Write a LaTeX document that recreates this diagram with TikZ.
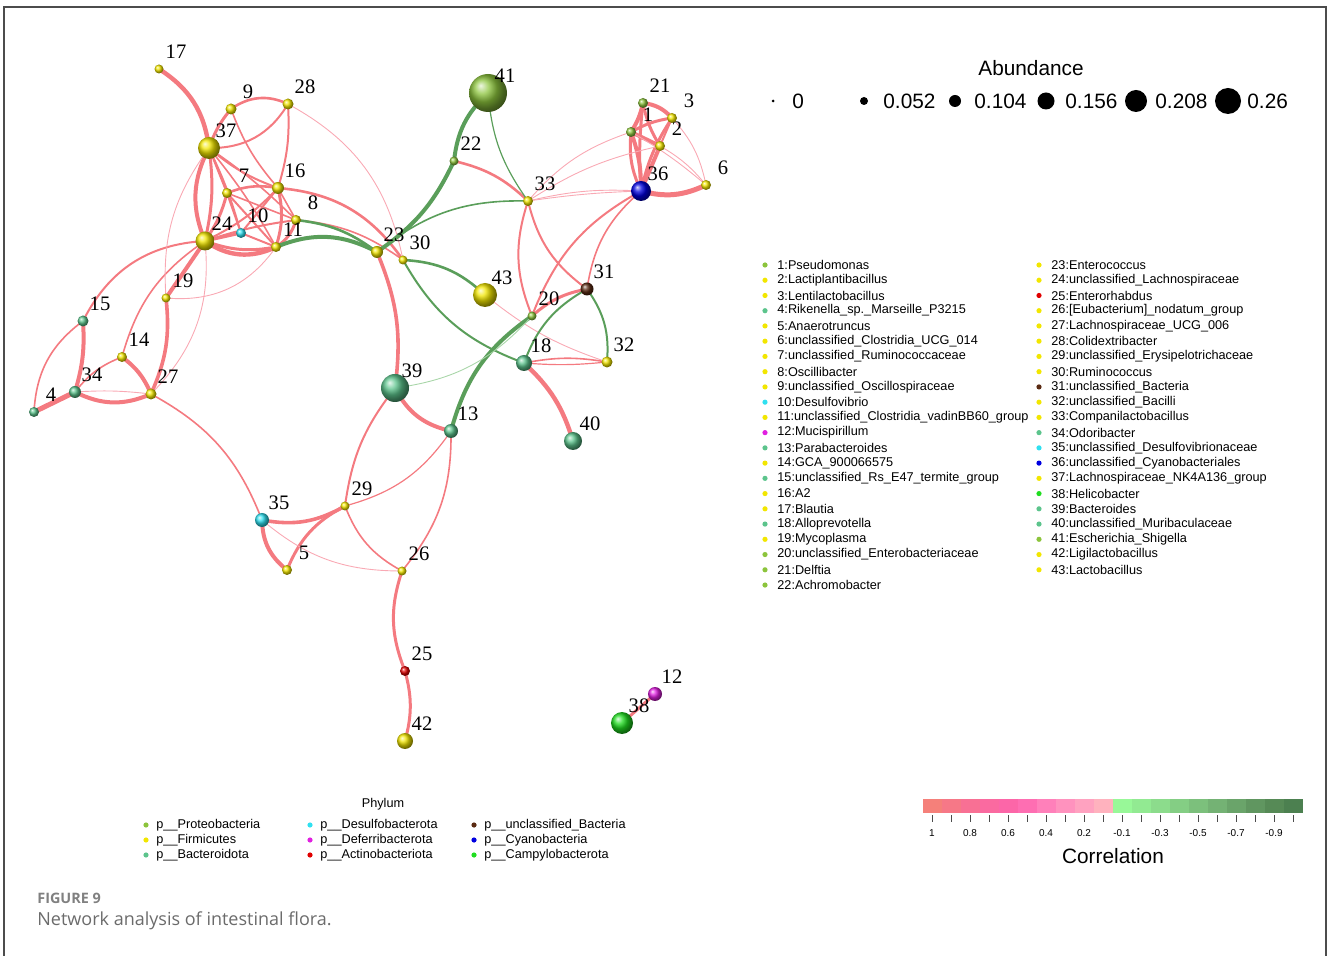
\documentclass[tikz,border=0pt]{standalone}
\usepackage{fontspec}
\setmainfont{Liberation Serif}
\newfontfamily\legfont{Liberation Sans}
\newfontfamily\capfont{Open Sans}
\usetikzlibrary{backgrounds}
% phylum colours
\definecolor{cprot}{HTML}{8CC43C}
\definecolor{cfirm}{HTML}{F2E600}
\definecolor{cbact}{HTML}{5CC48C}
\definecolor{cdesu}{HTML}{30E0F0}
\definecolor{cdefe}{HTML}{E020E0}
\definecolor{cacti}{HTML}{E00000}
\definecolor{cuncl}{HTML}{5A2A12}
\definecolor{ccyan}{HTML}{0000E0}
\definecolor{ccamp}{HTML}{20DD20}
% edge colours
\definecolor{cpos}{HTML}{F47A80}
\definecolor{cposl}{HTML}{F9A9B4}
\definecolor{cneg}{HTML}{5A9E5A}
\definecolor{cnegl}{HTML}{A9D6A9}
\tikzset{
  taxon/.style={circle, inner sep=0pt},
  num/.style={inner sep=0pt, font=\fontsize{10.3}{12}\selectfont},
  posedge/.style={draw=cpos, line cap=round},
  posfaint/.style={draw=cposl, line cap=round, line width=0.45pt},
  negedge/.style={draw=cneg, line cap=round},
  negfaint/.style={draw=cnegl, line cap=round, line width=0.45pt},
  legdot/.style={circle, inner sep=0pt, minimum size=2.6pt},
  legtext/.style={anchor=west, inner sep=0pt, font=\legfont\fontsize{6.35}{7.5}\selectfont},
  abdot/.style={circle, fill=black, inner sep=0pt},
  abtext/.style={anchor=west, inner sep=0pt, font=\legfont\fontsize{10.4}{12}\selectfont},
}
\begin{document}
\begin{tikzpicture}[x=0.5pt, y=-0.5pt]
        \useasboundingbox (0,0) rectangle (1328,956);
        \draw[gray!60!black, line width=0.6pt] (4,956) -- (4,7) -- (1326,7) -- (1326,956);
        % taxa: id/x/y/radius/phylum
        \foreach \id/\x/\y/\r/\c in {
          1/631/132/5/cprot, 2/660/146/5/cfirm, 3/672/118/5/cfirm, 4/34/412/5/cbact,
          5/287/570/5/cfirm, 6/706/185/5/cfirm, 7/227/193/5/cfirm, 8/296/220/5/cfirm,
          9/231/109/5.5/cfirm, 10/241/233/5/cdesu, 11/276/247/5/cfirm, 12/655/694/7/cdefe,
          13/451/431/7/cbact, 14/122/357/5/cfirm, 15/83/321/5.5/cbact, 16/278/188/6/cfirm,
          17/159/69/4.5/cfirm, 18/524/363/8/cbact, 19/166/298/4.5/cfirm, 20/532/316/4.5/cprot,
          21/643/103/5/cprot, 22/454/161/4.5/cprot, 23/377/252/6/cfirm, 24/205/241/9.5/cfirm,
          25/405/671/5/cacti, 26/402/571/4.5/cfirm, 27/151/394/5.5/cfirm, 28/288/104/5.5/cfirm,
          29/345/506/4.5/cfirm, 30/403/260/4.5/cfirm, 31/587/289/6.5/cuncl, 32/607/362/5.5/cfirm,
          33/528/201/5/cfirm, 34/75/392/6/cbact, 35/262/520/7/cdesu, 36/641/191/10/ccyan,
          37/209/148/11/cfirm, 38/622/723/11/ccamp, 39/395/388/14/cbact, 40/573/441/9/cbact,
          41/488/93/19/cprot, 42/405/741/8/cfirm, 43/485/295/12/cfirm}
        {
          \node[taxon, minimum size=\r pt, ball color=\c] (n\id) at (\x,\y) {};
          \node[num] (l\id) at (\x+17,\y-17) {\id};
        }
        \begin{scope}[on background layer]
        % positive correlations
        \foreach \a/\b/\w/\bb in {
          17/37/2.2/25, 37/9/1.5/10, 9/28/1.3/30, 37/28/1/-30, 9/16/0.8/-10, 28/16/1/10,
          37/7/1/0, 37/24/2/-25, 37/24/1.5/10, 37/10/0.8/5, 37/11/0.8/5, 37/8/0.8/5,
          37/16/1/-10, 7/16/1.3/15, 7/24/1.5/10, 7/10/1/0, 7/11/1/0, 7/8/0.8/0,
          16/24/1/10, 16/10/1/0, 16/11/1.5/15, 16/8/0.8/0, 16/30/1.3/25, 8/30/0.8/15,
          8/11/1.5/20, 24/10/1.5/0, 24/11/2.2/-30, 24/11/1.5/-15, 24/8/1/5, 10/11/1/0,
          24/15/1/-30, 24/14/0.8/-20, 24/19/2/0, 19/27/1.8/15, 15/34/2/10, 15/4/0.8/-25,
          14/34/0.8/-15, 14/27/2/15, 34/4/2.5/0, 34/27/2/-25, 27/35/0.8/20, 23/39/1.8/15,
          22/33/1.3/15, 33/20/1/-20, 33/31/1/-20, 36/20/1/-20, 36/31/0.8/-20, 20/31/1.5/15,
          18/32/0.8/10, 18/32/0.6/-5, 18/40/2.2/15, 39/13/2/-25, 39/29/1/-15, 13/29/0.6/20,
          13/26/0.8/20, 35/29/1.8/-20, 5/29/1.5/20, 35/5/2/-25, 29/26/0.8/-20, 26/25/1.5/-20,
          25/42/1.5/15, 38/12/1.5/0, 21/1/2/10, 21/3/2/20, 1/3/1.5/10, 1/2/2/0,
          21/2/1.5/-10, 1/36/2/10, 1/36/1.5/-15, 21/36/1.5/-5, 3/36/1.5/-10, 2/36/2/0,
          3/2/1/0, 36/6/2.5/-20}
        \draw[posedge, line width=\w pt] (n\a.center) to[bend left=\bb] (n\b.center);
        \foreach \a/\b/\bb in {
          28/30/25, 37/19/-20, 24/27/25, 19/11/-30, 34/27/5, 35/26/-20, 43/32/-10,
          33/1/15, 33/2/10, 33/36/8, 33/36/3, 2/6/10, 3/6/15, 1/6/5}
        \draw[posfaint] (n\a.center) to[bend left=\bb] (n\b.center);
        % negative correlations
        \foreach \a/\b/\w/\bb in {
          11/23/2/25, 8/23/1.3/15, 23/22/2/-15, 23/33/0.8/20, 30/18/1/-20, 30/43/1.3/20,
          22/41/2/20, 41/33/0.6/-15, 20/13/2/-20, 31/18/1/-20, 31/32/1/20}
        \draw[negedge, line width=\w pt] (n\a.center) to[bend left=\bb] (n\b.center);
        \draw[negfaint] (n39.center) to[bend left=-20] (n20.center);
        \end{scope}
        % abundance legend
        \node[abtext, anchor=center] (abtitle) at (1031,68) {Abundance};
        \foreach \x/\r/\t [count=\k] in {773/1.5/0, 864/4/0.052, 955/6/0.104,
          1046/8.5/0.156, 1136/11/0.208, 1228/13/0.26}
        {
          \node[abdot, minimum size=\r pt] (ab\k) at (\x,101) {};
          \node[abtext] (abt\k) at (\x+19,101) {\t};
        }
        % genus legend
        \foreach \c/\t [count=\i] in {cprot/Pseudomonas, cfirm/Lactiplantibacillus,
          cfirm/Lentilactobacillus, cbact/Rikenella\_sp.\_Marseille\_P3215, cfirm/Anaerotruncus,
          cfirm/unclassified\_Clostridia\_UCG\_014, cfirm/unclassified\_Ruminococcaceae,
          cfirm/Oscillibacter, cfirm/unclassified\_Oscillospiraceae, cdesu/Desulfovibrio,
          cfirm/unclassified\_Clostridia\_vadinBB60\_group, cdefe/Mucispirillum,
          cbact/Parabacteroides, cfirm/GCA\_900066575, cbact/unclassified\_Rs\_E47\_termite\_group,
          cfirm/A2, cfirm/Blautia, cbact/Alloprevotella, cfirm/Mycoplasma,
          cprot/unclassified\_Enterobacteriaceae, cprot/Delftia, cprot/Achromobacter}
        {
          \node[legdot, fill=\c] (gd\i) at (765,{265+(\i-1)*15.24}) {};
          \node[legtext] (gt\i) at (777,{265+(\i-1)*15.24}) {\i:\t};
        }
        \foreach \c/\t [count=\i from 23] in {cfirm/Enterococcus, cfirm/unclassified\_Lachnospiraceae,
          cacti/Enterorhabdus, cfirm/{[Eubacterium]\_nodatum\_group}, cfirm/Lachnospiraceae\_UCG\_006,
          cfirm/Colidextribacter, cfirm/unclassified\_Erysipelotrichaceae, cfirm/Ruminococcus,
          cuncl/unclassified\_Bacteria, cfirm/unclassified\_Bacilli, cfirm/Companilactobacillus,
          cbact/Odoribacter, cdesu/unclassified\_Desulfovibrionaceae,
          ccyan/unclassified\_Cyanobacteriales, cfirm/Lachnospiraceae\_NK4A136\_group,
          ccamp/Helicobacter, cbact/Bacteroides, cbact/unclassified\_Muribaculaceae,
          cprot/Escherichia\_Shigella, cfirm/Ligilactobacillus, cfirm/Lactobacillus}
        {
          \node[legdot, fill=\c] (gd\i) at (1039,{265+(\i-23)*15.24}) {};
          \node[legtext] (gt\i) at (1051,{265+(\i-23)*15.24}) {\i:\t};
        }
        % phylum legend
        \node[legtext, anchor=center] (phylum) at (383,804) {Phylum};
        \foreach \x/\y/\c/\t [count=\i] in {146/825/cprot/Proteobacteria, 146/840/cfirm/Firmicutes,
          146/855/cbact/Bacteroidota, 310/825/cdesu/Desulfobacterota, 310/840/cdefe/Deferribacterota,
          310/855/cacti/Actinobacteriota, 474/825/cuncl/unclassified\_Bacteria,
          474/840/ccyan/Cyanobacteria, 474/855/ccamp/Campylobacterota}
        {
          \node[legdot, fill=\c] (pd\i) at (\x,\y) {};
          \node[legtext] (pt\i) at (\x+10,\y) {p\_\_\t};
        }
        % correlation bar
        \foreach \rr/\gg/\bl [count=\k from 0] in {245/128/122, 246/120/135, 248/112/148,
          250/106/160, 252/102/168, 254/110/178, 255/128/186, 255/146/190, 255/162/192,
          255/178/190, 152/248/152, 146/234/146, 140/220/140, 132/206/132, 124/192/124,
          116/178/116, 106/164/106, 96/150/96, 86/138/86, 76/128/80}
        {
          \fill[fill={rgb,255:red,\rr;green,\gg;blue,\bl}] (923+19*\k,799) rectangle (942+19*\k,813);
          \draw[line width=0.5pt, black!70] (932+19*\k,815) -- (932+19*\k,822);
        }
        \foreach \t [count=\k from 0] in {1, 0.8, 0.6, 0.4, 0.2, -0.1, -0.3, -0.5, -0.7, -0.9}
        \node[inner sep=0pt, font=\legfont\fontsize{5}{6}\selectfont] (ct\k) at (932+38*\k,833) {\t};
        \node[abtext, anchor=center] (corr) at (1113,856) {Correlation};
        % caption
        \node[anchor=west, inner sep=0pt, text=black!50, font=\capfont\bfseries\fontsize{7.2}{8}\selectfont] (fig) at (37,898) {FIGURE 9};
        \node[anchor=west, inner sep=0pt, text=black!58, font=\capfont\fontsize{9}{11}\selectfont] (cap) at (37,921) {Network analysis of intestinal flora.};
\end{tikzpicture}
\end{document}
